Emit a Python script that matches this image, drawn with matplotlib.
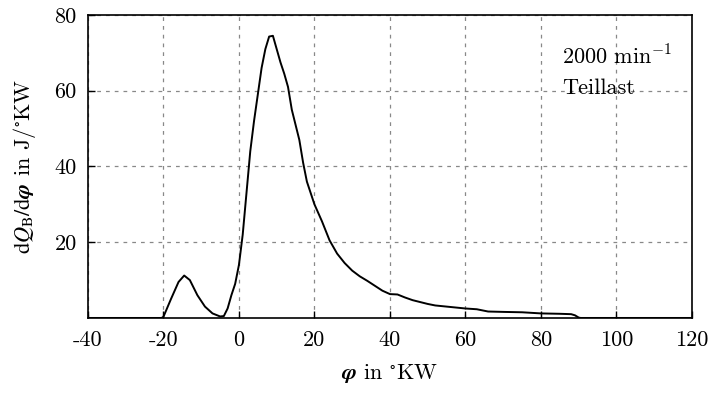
import matplotlib
matplotlib.use("Agg")
import matplotlib.pyplot as plt

plt.rcParams['font.family'] = ['cmr10', 'DejaVu Serif']
plt.rcParams['mathtext.fontset'] = 'cm'
plt.rcParams['axes.unicode_minus'] = False

# Brennverlauf
phi = [-40, -20.5, -20, -18, -16, -14.5, -13, -11, -9, -7, -5, -4, -3, -2, -1, 0,
       1, 2, 3, 4, 5, 6, 7, 8, 9, 10, 11, 12, 13, 14, 15, 16, 17, 18, 19, 20,
       22, 24, 26, 28, 30, 32, 34, 36, 38, 40, 42, 44, 46, 48, 50, 52, 55, 58,
       60, 63, 66, 70, 75, 80, 85, 88, 89, 90, 90.5, 120]
dQ = [0, 0, 0.3, 5, 9.5, 11.2, 10, 6, 3, 1.2, 0.4, 0.5, 2.5, 6, 9, 14,
      22, 33, 44, 52, 59, 66, 71, 74.3, 74.5, 71, 67.5, 64.5, 61, 55, 51, 47, 41, 36, 33, 30,
      25.5, 20.5, 17, 14.5, 12.5, 11, 9.8, 8.5, 7.2, 6.3, 6.2, 5.4, 4.7, 4.2, 3.7, 3.3, 3.0, 2.7,
      2.5, 2.3, 1.7, 1.6, 1.5, 1.2, 1.1, 1.0, 0.7, 0.1, 0, 0]

xticks = [-40, -20, 0, 20, 40, 60, 80, 100, 120]
yticks = [20, 40, 60, 80]

fs = 16

fig = plt.figure(figsize=(7.09, 3.94), dpi=100)
ax = fig.add_axes([0.124, 0.193, 0.852, 0.769])

ax.plot(phi, dQ, color='black', lw=1.4, zorder=3)

ax.set_xlim(-40, 120)
ax.set_ylim(0, 80)
ax.set_xticks(xticks)
ax.set_xticklabels([str(t) for t in xticks])
ax.set_yticks(yticks)
ax.set_yticklabels([str(t) for t in yticks])
ax.tick_params(direction='in', length=5, width=1, labelsize=fs)
ax.tick_params(axis='x', pad=9)
ax.tick_params(axis='y', pad=8)
ax.grid(True, ls=(0, (3, 4)), color='#888888', lw=0.9)
for s in ax.spines.values():
    s.set_linewidth(1.2)

ax.set_xlabel(r'$\mathbfit{\varphi}$ in $^{\circ}$KW', fontsize=fs, labelpad=9,
              math_fontfamily='stix')
ax.set_ylabel(r'$\mathrm{d}Q_\mathrm{B}/\mathrm{d}\mathbfit{\varphi}$ in J/$^{\circ}$KW',
              fontsize=fs, labelpad=12, math_fontfamily='stix')

ax.text(85.5, 69, r'2000 min$^{-1}$', fontsize=fs, va='center', ha='left')
ax.text(85.5, 60.7, 'Teillast', fontsize=fs, va='center', ha='left')

fig.savefig('out.png', dpi=100)
